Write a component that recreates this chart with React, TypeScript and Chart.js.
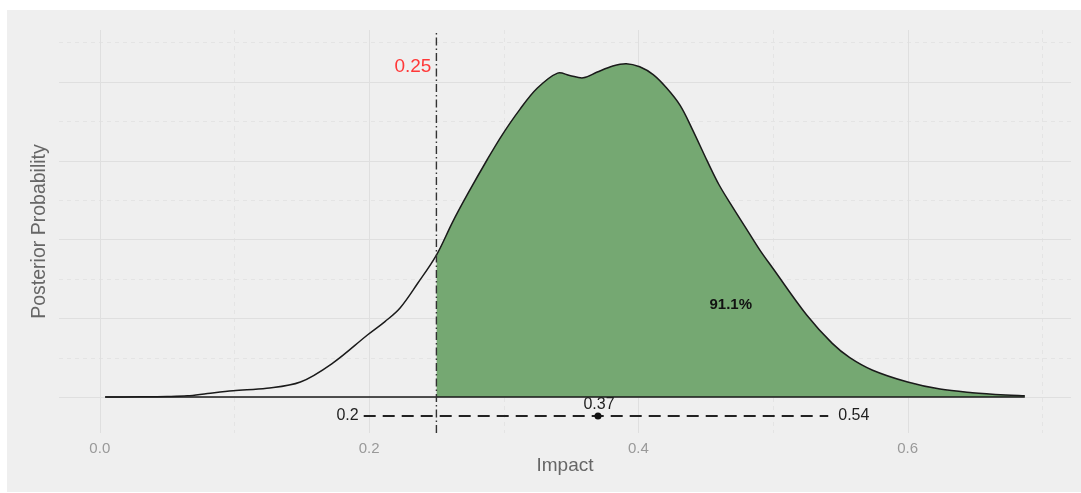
import React, { useEffect, useRef } from 'react';
import { Chart, registerables } from 'chart.js';

Chart.register(...registerables);

// Posterior density curve (Impact vs density)
const densityX = [
  0.004, 0.03, 0.05, 0.065, 0.08, 0.099, 0.124, 0.149, 0.173, 0.199, 0.212, 0.223, 0.236, 0.25,
  0.262, 0.273, 0.288, 0.299, 0.312, 0.325, 0.34, 0.349, 0.359, 0.369, 0.381, 0.391, 0.401,
  0.411, 0.421, 0.431, 0.44, 0.451, 0.46, 0.47, 0.48, 0.49, 0.5, 0.525, 0.544, 0.557, 0.574,
  0.6, 0.624, 0.648, 0.673, 0.687,
];
const densityY = [
  0.0, 0.002, 0.006, 0.015, 0.045, 0.08, 0.11, 0.19, 0.43, 0.79, 0.96, 1.13, 1.44, 1.8,
  2.22, 2.57, 3.02, 3.33, 3.65, 3.92, 4.11, 4.08, 4.05, 4.12, 4.2, 4.23, 4.19,
  4.09, 3.92, 3.7, 3.4, 3.0, 2.69, 2.41, 2.14, 1.87, 1.63, 1.04, 0.68, 0.5, 0.34,
  0.19, 0.1, 0.055, 0.025, 0.015,
];

const threshold = 0.25;
const thresholdLabel = '0.25';
const thresholdLabelY = 4.19;
const probabilityLabel = '91.1%';
const probabilityAt = [0.4686, 1.17];

const intervalLow = 0.196;
const intervalHigh = 0.541;
const intervalMedian = 0.37;
const intervalLevel = -0.24;
const intervalLabels = ['0.2', '0.54', '0.37'];

const xTickValues = [0, 0.2, 0.4, 0.6];
const xTickLabels = ['0.0', '0.2', '0.4', '0.6'];
const xGridMajor = [0, 0.2, 0.4, 0.6];
const xGridMinor = [0.1, 0.3, 0.5, 0.7];
const yGridMajor = [0, 1, 2, 3, 4];
const yGridMinor = [0.5, 1.5, 2.5, 3.5, 4.5];

const xMin = -0.0303;
const xMax = 0.7213;
const yMin = -0.457;
const yMax = 4.657;

const FONT = "'Liberation Sans', Arial, sans-serif";

const gridPlugin = {
  id: 'ggGrid',
  beforeDatasetsDraw(chart: any) {
    const { ctx, chartArea, scales } = chart;
    const { left, right, top, bottom } = chartArea;
    const xs = scales.x;
    const ys = scales.y;
    ctx.save();
    ctx.lineWidth = 1;
    const vline = (v: number) => {
      const p = Math.round(xs.getPixelForValue(v)) + 0.5;
      ctx.beginPath();
      ctx.moveTo(p, top);
      ctx.lineTo(p, bottom);
      ctx.stroke();
    };
    const hline = (v: number) => {
      const p = Math.round(ys.getPixelForValue(v)) + 0.5;
      ctx.beginPath();
      ctx.moveTo(left, p);
      ctx.lineTo(right, p);
      ctx.stroke();
    };
    ctx.strokeStyle = '#e4e4e4';
    ctx.setLineDash([4, 4]);
    xGridMinor.forEach(vline);
    yGridMinor.forEach(hline);
    ctx.strokeStyle = '#dfdfdf';
    ctx.setLineDash([]);
    xGridMajor.forEach(vline);
    yGridMajor.forEach(hline);
    ctx.restore();
  },
};

const textPlugin = {
  id: 'ggText',
  afterDatasetsDraw(chart: any) {
    const { ctx, scales } = chart;
    const xs = scales.x;
    const ys = scales.y;
    ctx.save();
    ctx.textBaseline = 'middle';

    ctx.fillStyle = '#ff3838';
    ctx.font = `19px ${FONT}`;
    ctx.textAlign = 'right';
    ctx.fillText(thresholdLabel, xs.getPixelForValue(threshold) - 5, ys.getPixelForValue(thresholdLabelY));

    ctx.fillStyle = '#111111';
    ctx.font = `bold 15px ${FONT}`;
    ctx.textAlign = 'center';
    ctx.fillText(probabilityLabel, xs.getPixelForValue(probabilityAt[0]), ys.getPixelForValue(probabilityAt[1]));

    const iy = ys.getPixelForValue(intervalLevel);
    ctx.fillStyle = '#1e1e1e';
    ctx.font = `16px ${FONT}`;
    ctx.textAlign = 'right';
    ctx.fillText(intervalLabels[0], xs.getPixelForValue(intervalLow) - 5, iy);
    ctx.textAlign = 'left';
    ctx.fillText(intervalLabels[1], xs.getPixelForValue(intervalHigh) + 10, iy);
    ctx.textAlign = 'center';
    ctx.fillText(intervalLabels[2], xs.getPixelForValue(intervalMedian) + 1, iy - 11);
    ctx.restore();
  },
};

export default function App() {
  const canvasRef = useRef<HTMLCanvasElement | null>(null);

  useEffect(() => {
    const canvas = canvasRef.current;
    if (!canvas) return;
    const densityPts = densityX.map((x, i) => ({ x, y: densityY[i] }));
    const fillPts = densityPts.filter((p) => p.x >= threshold);

    const chart = new Chart(canvas, {
      type: 'line',
      data: {
        datasets: [
          {
            label: 'area',
            data: fillPts,
            fill: 'origin',
            backgroundColor: '#75a872',
            borderColor: 'rgba(0,0,0,0)',
            borderWidth: 0,
            pointRadius: 0,
            tension: 0.35,
            order: 6,
          },
          {
            label: 'density',
            data: densityPts,
            fill: false,
            borderColor: '#1a1a1a',
            borderWidth: 1.5,
            pointRadius: 0,
            tension: 0.35,
            order: 5,
          },
          {
            label: 'baseline',
            data: [
              { x: densityX[0], y: 0 },
              { x: densityX[densityX.length - 1], y: 0 },
            ],
            fill: false,
            borderColor: '#1a1a1a',
            borderWidth: 1.5,
            pointRadius: 0,
            order: 4,
          },
          {
            label: 'threshold',
            data: [
              { x: threshold, y: yMin },
              { x: threshold, y: yMax },
            ],
            fill: false,
            borderColor: '#333333',
            borderWidth: 1.4,
            borderDash: [8, 3, 1.5, 3],
            pointRadius: 0,
            order: 3,
          },
          {
            label: 'interval',
            data: [
              { x: intervalLow, y: intervalLevel },
              { x: intervalHigh, y: intervalLevel },
            ],
            fill: false,
            borderColor: '#222222',
            borderWidth: 2,
            borderDash: [12, 7],
            pointRadius: 0,
            order: 2,
          },
          {
            label: 'median',
            data: [{ x: intervalMedian, y: intervalLevel }],
            showLine: false,
            pointRadius: 3.5,
            pointBackgroundColor: '#111111',
            pointBorderWidth: 0,
            order: 1,
          },
        ],
      },
      options: {
        animation: false,
        responsive: false,
        layout: { padding: { left: 0, right: 10, top: 20, bottom: 0 } },
        plugins: { legend: { display: false }, tooltip: { enabled: false } },
        scales: {
          x: {
            type: 'linear',
            min: xMin,
            max: xMax,
            afterBuildTicks: (scale: any) => {
              scale.ticks = xTickValues.map((v) => ({ value: v }));
            },
            afterFit: (scale: any) => {
              scale.height = 59;
            },
            ticks: {
              autoSkip: false,
              maxRotation: 0,
              padding: 7,
              color: '#999999',
              font: { family: FONT, size: 15 },
              callback: (_v: any, i: number) => xTickLabels[i],
            },
            grid: { display: false, drawTicks: false },
            border: { display: false },
            title: {
              display: true,
              text: 'Impact',
              color: '#666666',
              font: { family: FONT, size: 19 },
              padding: { top: 4, bottom: 15 },
            },
          },
          y: {
            type: 'linear',
            min: yMin,
            max: yMax,
            afterFit: (scale: any) => {
              scale.width = 52;
            },
            ticks: { display: false },
            grid: { display: false, drawTicks: false },
            border: { display: false },
            title: {
              display: true,
              text: 'Posterior Probability',
              color: '#666666',
              font: { family: FONT, size: 19.5 },
              padding: { top: 21, bottom: 0 },
            },
          },
        },
      },
      plugins: [gridPlugin, textPlugin],
    } as any);

    return () => chart.destroy();
  }, []);

  return (
    <div
      style={{
        position: 'absolute',
        left: 7,
        top: 10,
        width: 1074,
        height: 482,
        background: '#efefef',
      }}
    >
      <canvas ref={canvasRef} width={1074} height={482} style={{ display: 'block' }} />
    </div>
  );
}
